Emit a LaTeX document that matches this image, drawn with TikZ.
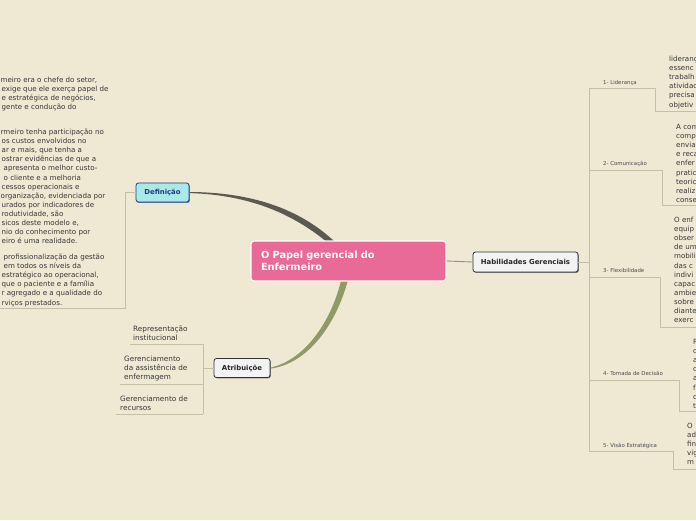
\documentclass[tikz,border=0pt]{standalone}
\usepackage{fontspec}
\setmainfont{DejaVu Sans}
\usetikzlibrary{positioning,calc,backgrounds}
\definecolor{paper}{RGB}{239,232,211}
\definecolor{rootpink}{RGB}{233,106,151}
\definecolor{defcyan}{RGB}{170,232,234}
\definecolor{defblue}{RGB}{30,60,125}
\definecolor{boxgray}{RGB}{243,243,243}
\definecolor{boxline}{RGB}{50,50,50}
\definecolor{darkbranch}{RGB}{92,90,80}
\definecolor{olivebranch}{RGB}{143,154,102}
\definecolor{twigline}{RGB}{196,191,166}
\definecolor{inkgray}{RGB}{55,55,55}

\begin{document}
\begin{tikzpicture}[x=1pt,y=-1pt,
    topicbox/.style={draw=boxline, fill=boxgray, rounded corners=2.5pt, line width=0.8pt,
      inner sep=0pt, text=black!85, font=\fontsize{6.9}{8}\selectfont\bfseries,
      preaction={fill=black!55, transform canvas={xshift=0.8pt,yshift=-0.9pt}}},
    % multi-line leaves: placed by the baseline of their last line
    leaftext/.style={anchor=base west, inner sep=0pt, align=left, text=inkgray,
      font=\fontsize{7.1}{9.1}\selectfont},
    branchlabel/.style={anchor=base west, inner sep=0pt, text=inkgray!90,
      font=\fontsize{5.4}{6}\selectfont},
    twig/.style={draw=twigline, line width=0.8pt}]
  \useasboundingbox (0,0) rectangle (696,520);
  \begin{scope}[on background layer]
    \fill[paper] (0,0) rectangle (696,520);
  \end{scope}

  % main topics
  \node[draw=white, fill=rootpink, rounded corners=3pt, line width=1.2pt,
    minimum width=195pt, minimum height=40pt, inner sep=0pt, text width=175pt, align=left,
    text=white, font=\fontsize{9.8}{12}\selectfont\bfseries] (root) at (348.5,261)
    {O Papel gerencial do\\Enfermeiro};
  \node[topicbox, draw=defblue, fill=defcyan, text=defblue,
    preaction={fill=defblue!70, transform canvas={xshift=0.8pt,yshift=-0.9pt}},
    minimum width=53pt, minimum height=19pt] (defin) at (162.5,192.5) {Definição};
  \node[topicbox, minimum width=56pt, minimum height=19pt] (atrib) at (242,368) {Atribuiçõe};
  \node[topicbox, minimum width=105pt, minimum height=20pt] (habil) at (525.5,262) {Habilidades Gerenciais};

  % branches out of the root
  \begin{scope}[on background layer]
    \fill[darkbranch] ($(defin.east)+(0,-0.5)$) .. controls (252,192.2) and (304,209) .. ($(root.north)+(-7,8)$)
      -- ($(root.north)+(-12,10)$) .. controls (298,215) and (251,194.8) .. ($(defin.east)+(0,0.6)$) -- cycle;
    \fill[olivebranch] ($(root.south)+(-6,-8)$) .. controls (334,318) and (306,360) .. ($(atrib.east)+(0,-0.4)$)
      -- ($(atrib.east)+(0,0.6)$) .. controls (310,363.5) and (339,320) .. ($(root.south)+(1,-8)$) -- cycle;
  \end{scope}
  \draw[olivebranch, line width=0.9pt] (root.east) -- (habil.west);

  % Definicao
  \coordinate (defknee) at (125,192.5);
  \coordinate (defcorner) at (125,308);
  \coordinate (defedge) at (0,308);
  \draw[twig] (defin.west) -- (defknee) -- (defcorner) -- (defedge);
  \node[leaftext] (deftxta) at (0.5,109.8)
    {meiro era o chefe do setor,\\
     \kern1pt exige que ele exerça papel de\\
     \kern1pt e estratégica de negócios,\\
     \kern1pt gente e condução do};
  \node[leaftext] (deftxtb) at (0.5,243.7)
    {rmeiro tenha participação no\\
     \kern1pt os custos envolvidos no\\
     \kern1pt ar e mais, que tenha a\\
     \kern1pt ostrar evidências de que a\\
     \kern3pt apresenta o melhor custo-\\
     \kern3pt o cliente e a melhoria\\
     \kern1pt cessos operacionais e\\
     organização, evidenciada por\\
     \kern1pt urados por indicadores de\\
     \kern1pt rodutividade, são\\
     \kern1pt sicos deste modelo e,\\
     \kern1pt nio do conhecimento por\\
     \kern1pt eiro é uma realidade.};
  \node[leaftext] (deftxtc) at (0.5,305)
    {\kern3pt profissionalização da gestão\\
     \kern3pt em todos os níveis da\\
     \kern1pt estratégico ao operacional,\\
     \kern1pt que o paciente e a família\\
     \kern1pt r agregado e a qualidade do\\
     \kern1pt rviços prestados.};

  % Atribuicoes
  \coordinate (atrhub) at (203,368);
  \coordinate (atrtop) at (203,344);
  \coordinate (atrmid) at (203,384);
  \coordinate (atrbot) at (203,414);
  \draw[twig] (atrib.west) -- (atrhub);
  \draw[twig] (atrtop) -- (atrbot);
  \node[leaftext, font=\fontsize{7.3}{9}\selectfont] (reprinst) at (133,340) {Representação\\institucional};
  \node[leaftext, font=\fontsize{7.3}{9}\selectfont] (gerassist) at (124,379.5) {Gerenciamento\\da assistência de\\enfermagem};
  \node[leaftext, font=\fontsize{7.3}{9}\selectfont] (gerrecur) at (120,410) {Gerenciamento de\\recursos};
  \draw[twig] (atrtop) -- (130,344);
  \draw[twig] (atrmid) -- (120,384);
  \draw[twig] (atrbot) -- (116,414);

  % Habilidades Gerenciais
  \coordinate (habhub) at (589,262);
  \coordinate (habtop) at (589,88);
  \coordinate (habbot) at (589,451);
  \draw[twig] (habil.east) -- (habhub);
  \draw[twig] (habtop) -- (habbot);

  \node[branchlabel] (lider) at (603,84) {1- Liderança};
  \draw[twig] (habtop) -- (655,88) -- (655,111) -- (696,111);
  \node[leaftext] (lidertxt) at (669,107) {liderança\\essenc\\trabalh\\atividad\\precisa\\objetiv};

  \node[branchlabel] (comun) at (603,165) {2- Comunicação};
  \draw[twig] (589,170) -- (662,170) -- (662,205) -- (696,205);
  \node[leaftext] (comuntxt) at (676,202.3) {A com\\comp\\envia\\e reca\\enfer\\pratic\\teoric\\realiz\\conse};

  \node[branchlabel] (flexi) at (603,272) {3- Flexibilidade};
  \draw[twig] (589,277) -- (660,277) -- (660,327) -- (696,327);
  \node[leaftext] (flexitxt) at (674,322.6) {O enf\\equip\\obser\\de um\\mobili\\das c\\indivi\\capac\\ambie\\sobre\\diante\\exerc};

  \node[branchlabel] (tomada) at (603,375) {4- Tomada de Decisão};
  \draw[twig] (589,380) -- (679,380) -- (679,411) -- (696,411);
  \node[leaftext] (tomadatxt) at (693,408.2) {F\\c\\a\\c\\a\\f\\c\\t};

  \node[branchlabel] (visao) at (603,447) {5- Visão Estratégica};
  \draw[twig] (habbot) -- (673,451) -- (673,469) -- (696,469);
  \node[leaftext] (visaotxt) at (687,464.9) {O\\ad\\fin\\vig\\m};
\end{tikzpicture}
\end{document}
